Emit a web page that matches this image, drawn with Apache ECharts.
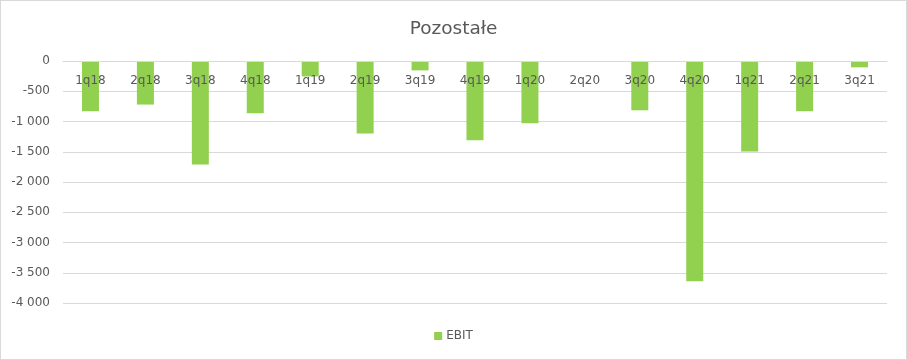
<!DOCTYPE html>
<html>
<head>
<meta charset="utf-8">
<script src="https://cdn.jsdelivr.net/npm/echarts@6/dist/echarts.min.js"></script>
<style>
html,body{margin:0;padding:0;background:#fff;}
#frame{position:absolute;left:0;top:0;width:905px;height:358px;border:1px solid #d9d9d9;}
#chart{position:absolute;left:0;top:0;width:907px;height:360px;}
</style>
</head>
<body>
<div id="frame"></div>
<div id="chart"></div>
<script>
const categories = ['1q18','2q18','3q18','4q18','1q19','2q19','3q19','4q19','1q20','2q20','3q20','4q20','1q21','2q21','3q21'];
const ebit = [-830, -720, -1710, -865, -255, -1200, -155, -1310, -1030, 0, -815, -3640, -1495, -830, -105];
const chartTitle = 'Pozostałe';
const seriesName = 'EBIT';

const chart = echarts.init(document.getElementById('chart'), null, {renderer: 'canvas'});
const fmt = v => {
  const s = Math.abs(v).toString().replace(/\B(?=(\d{3})+(?!\d))/g, ' ');
  return (v < 0 ? '-' : '') + s;
};
chart.setOption({
  animation: false,
  backgroundColor: 'transparent',
  textStyle: {fontFamily: 'DejaVu Sans'},
  title: {
    text: chartTitle, left: 'center', top: 15,
    textStyle: {fontFamily: 'DejaVu Sans', fontSize: 18.5, fontWeight: 'normal', color: '#595959'}
  },
  legend: {
    data: [seriesName], bottom: 13, left: 'center', icon: 'rect', itemWidth: 8, itemHeight: 8, itemGap: 4,
    textStyle: {fontFamily: 'DejaVu Sans', fontSize: 12, color: '#595959', padding: [0,0,0,-1]}
  },
  grid: {left: 63, right: 20, top: 61, bottom: 57, containLabel: false},
  xAxis: {
    type: 'category', data: categories, z: 10, position: 'top',
    axisLine: {show: true, onZero: false, lineStyle: {color: '#d9d9d9'}},
    axisTick: {show: false},
    axisLabel: {inside: true, margin: 14, fontFamily: 'DejaVu Sans', fontSize: 12, color: '#595959'},
    splitLine: {show: false}
  },
  yAxis: {
    type: 'value', min: -4000, max: 0, interval: 500,
    axisLine: {show: false}, axisTick: {show: false},
    axisLabel: {margin: 13, fontFamily: 'DejaVu Sans', fontSize: 12, color: '#595959', formatter: fmt},
    splitLine: {lineStyle: {color: '#d9d9d9'}}
  },
  series: [{
    name: seriesName, type: 'bar', data: ebit, barWidth: 17,
    itemStyle: {color: '#92d050'}
  }]
});
</script>
</body>
</html>
